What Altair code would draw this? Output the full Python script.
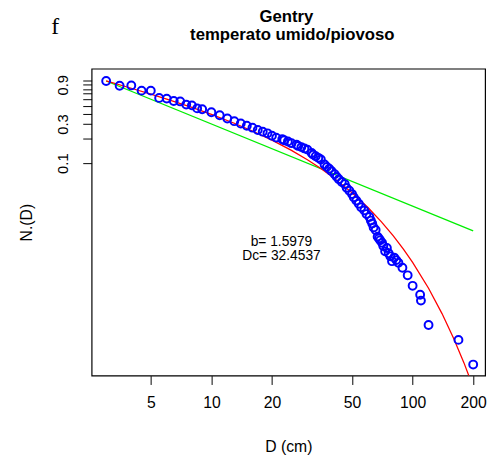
import altair as alt
import pandas as pd

# observed points: diameter D (cm) and N.(D)
D_obs = [3.0, 3.5, 4.0, 4.5, 5.0, 5.5, 6.0, 6.5, 7.0, 7.5, 8.0, 8.5, 9.0, 10, 11, 12, 13, 14,
         15, 16, 17, 18, 19, 20, 21, 22.5, 23, 24, 25, 26.5, 27, 28, 29, 30, 31.5, 32, 33, 34,
         35, 36.5, 37.5, 38.5, 39.5, 41, 42, 43, 44.5, 46, 47, 48.5, 50, 51, 52.5, 54, 55.5,
         57.5, 59, 61, 62, 63, 64, 65.5, 67, 68, 69, 70.5, 71.5, 73, 74.5, 76, 77.5, 79, 81,
         83, 85, 89, 94.5, 100, 109, 110, 120, 169, 200]
N_obs = [1.0, 0.876, 0.883, 0.763, 0.763, 0.622, 0.610, 0.571, 0.564, 0.516, 0.505, 0.464,
         0.453, 0.416, 0.383, 0.349, 0.324, 0.304, 0.285, 0.270, 0.253, 0.2415, 0.2307, 0.216,
         0.2045, 0.1954, 0.19, 0.1834, 0.175, 0.1675, 0.162, 0.1567, 0.151, 0.146, 0.1328,
         0.127, 0.1213, 0.116, 0.1107, 0.0965, 0.090, 0.0855, 0.080, 0.0732, 0.068, 0.0638,
         0.059, 0.0556, 0.050, 0.0462, 0.042, 0.0384, 0.035, 0.032, 0.029, 0.0266, 0.024,
         0.0221, 0.020, 0.01845, 0.0165, 0.01533, 0.01274, 0.01213, 0.0115, 0.01072, 0.0098,
         0.00843, 0.00926, 0.0080, 0.00734, 0.0064, 0.00708, 0.0066, 0.00612, 0.00533,
         0.00431, 0.00321, 0.0025, 0.00212, 0.00107, 0.000705, 0.000353]

# red fitted curve
D_fit = [3, 4, 5, 6, 8, 10, 13, 16, 20, 25, 30, 35, 40, 50, 60, 70, 80, 90, 100, 120,
         140, 160, 180, 200]
N_fit = [1.0, 0.816, 0.693, 0.602, 0.477, 0.392, 0.306, 0.246, 0.1905, 0.1429, 0.1098,
         0.0859, 0.0679, 0.0437, 0.0288, 0.0193, 0.01308, 0.00896, 0.00618, 0.0030,
         0.001474, 0.000735, 0.00037, 0.000187]

# green power-law line
D_pl = [3, 200]
N_pl = [1.0, 0.015]

x_ticks = [5, 10, 20, 50, 100, 200]
y_ticks = [0.1, 0.2, 0.3, 0.4, 0.5, 0.6, 0.7, 0.8, 0.9, 1.0]

title_lines = ["Gentry", "temperato umido/piovoso"]
annot_lines = ["b= 1.5979", "Dc= 32.4537"]

obs = pd.DataFrame({"D": D_obs, "N": N_obs})
fit = pd.DataFrame({"D": D_fit, "N": N_fit})
pl = pd.DataFrame({"D": D_pl, "N": N_pl})

FONT = "Liberation Sans"
xs = alt.Scale(type="log", domain=[2.54, 229.2], nice=False, zero=False)
ys = alt.Scale(type="log", domain=[0.000259, 1.411], nice=False, zero=False)

x_enc = alt.X("D:Q", scale=xs, axis=alt.Axis(
    title="D (cm)", values=x_ticks, format="d", domain=False, grid=False,
    tickSize=9, tickColor="black", labelFontSize=16, labelPadding=10,
    labelColor="black", titleFontSize=16, titleFontWeight="normal",
    titlePadding=29, titleColor="black", labelFont=FONT, titleFont=FONT,
    labelFlush=False, labelOverlap=False))
y_enc = alt.Y("N:Q", scale=ys, axis=alt.Axis(
    title="N.(D)", values=y_ticks, domain=False, grid=False,
    tickSize=9, tickColor="black", labelFontSize=15, labelAngle=270,
    labelAlign="center", labelBaseline="bottom", labelPadding=12,
    labelExpr="(datum.value > 0.09 && datum.value < 0.11) || (datum.value > 0.29 && datum.value < 0.31) || (datum.value > 0.89 && datum.value < 0.91) ? format(datum.value, '.1f') : ''",
    labelColor="black", titleFontSize=16, titleFontWeight="normal",
    titlePadding=22, titleColor="black", labelFont=FONT, titleFont=FONT,
    labelFlush=False, labelOverlap=False))

pts = alt.Chart(obs).mark_point(
    shape="circle", filled=False, color="#0000FF", size=64, strokeWidth=2, opacity=1
).encode(x=x_enc, y=y_enc)

red = alt.Chart(fit).mark_line(color="#FF0000", strokeWidth=1.3, clip=True).encode(
    x=alt.X("D:Q", scale=xs), y=alt.Y("N:Q", scale=ys))
green = alt.Chart(pl).mark_line(color="#00EE00", strokeWidth=1.3, clip=True).encode(
    x=alt.X("D:Q", scale=xs), y=alt.Y("N:Q", scale=ys))


def label(txt, x, y, size, font=FONT, weight="normal", align="center", baseline="middle"):
    return alt.Chart(pd.DataFrame({"t": [txt]})).mark_text(
        font=font, fontSize=size, fontWeight=weight, color="black",
        align=align, baseline=baseline
    ).encode(text="t:N", x=alt.value(x), y=alt.value(y))


ann1 = label(annot_lines[0], 193, 176, 14)
ann2 = label(annot_lines[1], 193, 190, 14)
flabel = label("f", -41, -35, 24, font="Liberation Serif", align="left", baseline="alphabetic")
t1 = label(title_lines[0], 198, -47, 17, weight="bold", baseline="alphabetic")
t2 = label(title_lines[1], 204, -29, 17, weight="bold", baseline="alphabetic")

chart = alt.layer(green, red, pts, ann1, ann2, flabel, t1, t2).properties(
    width=400, height=312,
    autosize=alt.AutoSizeParams(type="none"),
    padding={"left": 85, "top": 58, "right": 6, "bottom": 78},
).configure_view(stroke="black", strokeWidth=1.2)

chart.save("out.html", embed_options={"renderer": "svg", "actions": False})
